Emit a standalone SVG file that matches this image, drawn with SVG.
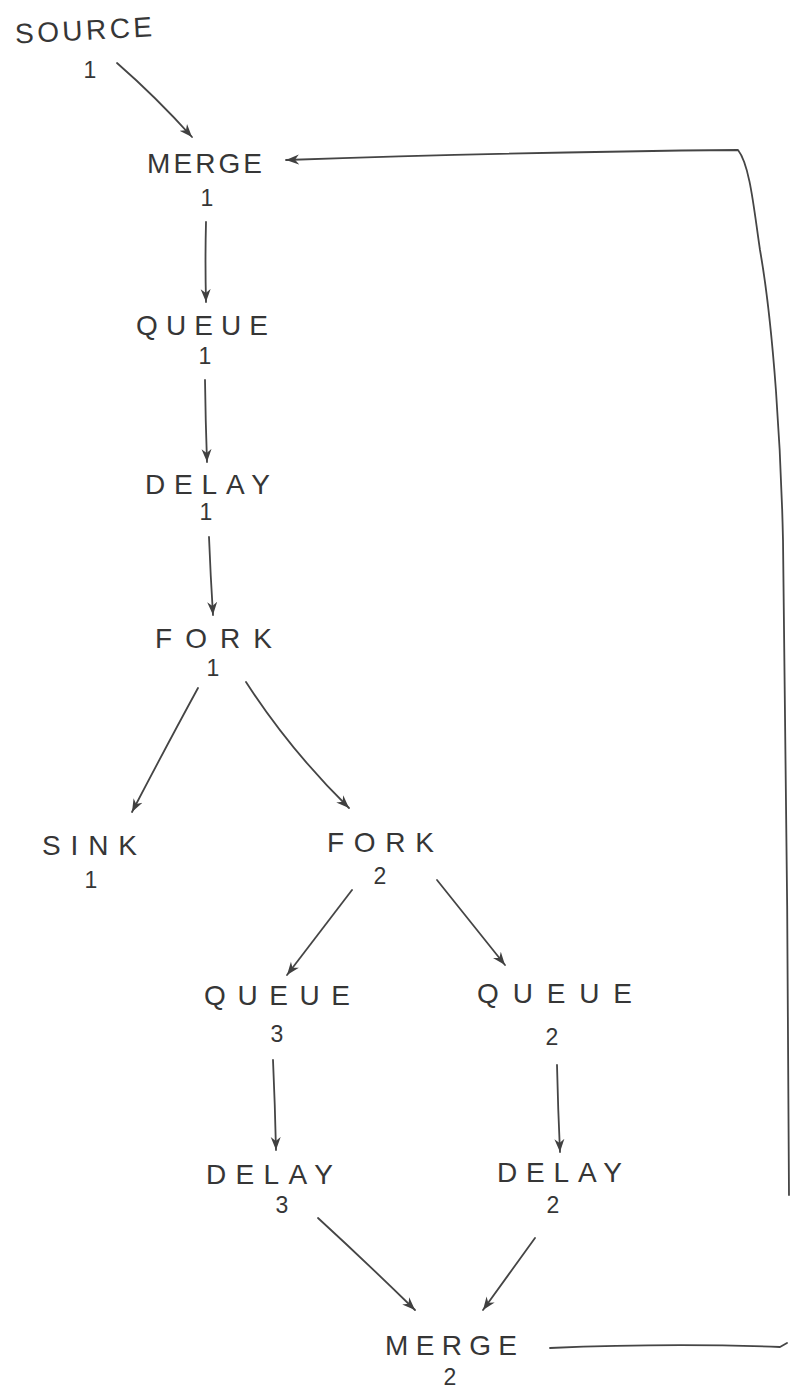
<svg xmlns="http://www.w3.org/2000/svg" width="791" height="1390" viewBox="0 0 791 1390">
  <defs>
    <style>
      .lbl { font-family: "Liberation Sans", "DejaVu Sans", sans-serif; font-size: 28px; fill: #363636; font-weight: normal; }
      .num { font-family: "Liberation Sans", "DejaVu Sans", sans-serif; font-size: 23px; fill: #363636; text-anchor: middle; }
      .edge { fill: none; stroke: #454545; stroke-width: 1.8; stroke-linecap: round; stroke-linejoin: round; }
    </style>
    <marker id="head" viewBox="0 0 14 11" refX="13" refY="5.5" markerWidth="14" markerHeight="11" markerUnits="userSpaceOnUse" orient="auto">
      <path d="M0,0.5 L13,5.5 L0,10.5 L4,5.5 Z" fill="#404040"/>
    </marker>
  </defs>
  <rect width="791" height="1390" fill="#fff"/>

  <!-- connectors -->
  <g id="connectors">
    <path class="edge" d="M117,63 Q156,97 192,137" marker-end="url(#head)"/>
    <path class="edge" d="M206,222 Q205,262 206,302" marker-end="url(#head)"/>
    <path class="edge" d="M205,380 Q205.5,420 207,462" marker-end="url(#head)"/>
    <path class="edge" d="M209,537 Q210.5,575 213,615" marker-end="url(#head)"/>
    <path class="edge" d="M198,688 Q168,743 132,812" marker-end="url(#head)"/>
    <path class="edge" d="M246,682 Q290,750 349,808" marker-end="url(#head)"/>
    <path class="edge" d="M352,890 Q320,932 287,975" marker-end="url(#head)"/>
    <path class="edge" d="M437,880 Q470,921 505,965" marker-end="url(#head)"/>
    <path class="edge" d="M273,1060 Q275,1105 276,1150" marker-end="url(#head)"/>
    <path class="edge" d="M557,1065 Q558,1110 560,1152" marker-end="url(#head)"/>
    <path class="edge" d="M318,1218 Q367,1263 415,1310" marker-end="url(#head)"/>
    <path class="edge" d="M535,1238 Q509,1274 483,1310" marker-end="url(#head)"/>
    <!-- feedback loop from MERGE 2 back to MERGE 1 -->
    <path class="edge" d="M550,1348 Q670,1343 780,1347 L787,1343"/>
    <path class="edge" d="M789,1195 C788,1000 786,700 783,540 C781,450 774,330 760,250 C754,210 750,165 738,150 Q520,152 286,160" marker-end="url(#head)"/>
  </g>

  <!-- nodes -->
  <g id="source1">
    <text class="lbl" x="15" y="40" textLength="137" lengthAdjust="spacing" transform="rotate(-3 82 30)">SOURCE</text>
    <text class="num" x="90" y="78">1</text>
  </g>
  <g id="merge1">
    <text class="lbl" x="147" y="173" textLength="115" lengthAdjust="spacing">MERGE</text>
    <text class="num" x="207" y="206">1</text>
  </g>
  <g id="queue1">
    <text class="lbl" x="136" y="335" textLength="132" lengthAdjust="spacing">QUEUE</text>
    <text class="num" x="205" y="364">1</text>
  </g>
  <g id="delay1">
    <text class="lbl" x="145" y="494" textLength="125" lengthAdjust="spacing">DELAY</text>
    <text class="num" x="206" y="520">1</text>
  </g>
  <g id="fork1">
    <text class="lbl" x="155" y="648" textLength="117" lengthAdjust="spacing">FORK</text>
    <text class="num" x="213" y="676">1</text>
  </g>
  <g id="sink1">
    <text class="lbl" x="42" y="855" textLength="95" lengthAdjust="spacing">SINK</text>
    <text class="num" x="91" y="888">1</text>
  </g>
  <g id="fork2">
    <text class="lbl" x="327" y="852" textLength="107" lengthAdjust="spacing">FORK</text>
    <text class="num" x="380" y="884">2</text>
  </g>
  <g id="queue3">
    <text class="lbl" x="204" y="1005" textLength="146" lengthAdjust="spacing">QUEUE</text>
    <text class="num" x="277" y="1042">3</text>
  </g>
  <g id="queue2">
    <text class="lbl" x="477" y="1003" textLength="155" lengthAdjust="spacing">QUEUE</text>
    <text class="num" x="552" y="1045">2</text>
  </g>
  <g id="delay3">
    <text class="lbl" x="206" y="1184" textLength="127" lengthAdjust="spacing">DELAY</text>
    <text class="num" x="282" y="1213">3</text>
  </g>
  <g id="delay2">
    <text class="lbl" x="497" y="1182" textLength="125" lengthAdjust="spacing">DELAY</text>
    <text class="num" x="553" y="1213">2</text>
  </g>
  <g id="merge2">
    <text class="lbl" x="385" y="1355" textLength="132" lengthAdjust="spacing">MERGE</text>
    <text class="num" x="450" y="1385">2</text>
  </g>
</svg>
